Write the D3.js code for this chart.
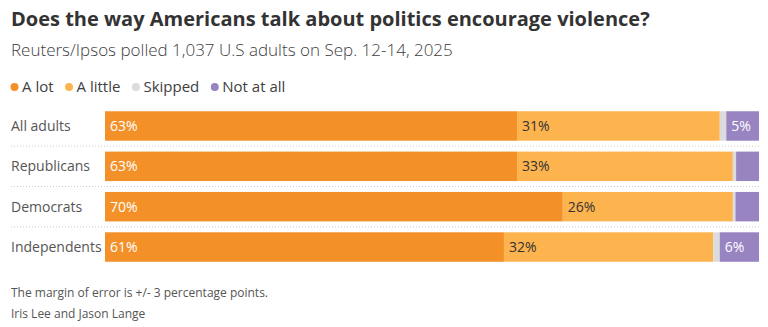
<!DOCTYPE html>
<html>
<head>
<meta charset="utf-8">
<script src="https://cdn.jsdelivr.net/npm/d3@7"></script>
<style>
  body { margin: 0; background: #fff; }
  text { font-family: "Open Sans", sans-serif; }
</style>
</head>
<body>
<div id="chart"></div>
<script>
var width = 768,
    height = 327;

// survey groups and answer shares (percent)
var groups = ["All adults", "Republicans", "Democrats", "Independents"];
var answers = ["A lot", "A little", "Skipped", "Not at all"];
var aLot     = [63, 63, 70, 61];
var aLittle  = [31, 33, 26, 32];
var skipped  = [1, 0.5, 0.4, 1];
var notAtAll = [5, 3.5, 3.6, 6];
// which segments carry a value label
var showLabel = [
  [true, true, false, true],
  [true, true, false, false],
  [true, true, false, false],
  [true, true, false, true]
];

var colors = {
  'A lot': '#f39128',
  'A little': '#fdb44f',
  'Skipped': '#dcdcdc',
  'Not at all': '#9784c1'
};
var labelColors = {
  'A lot': '#fff',
  'A little': '#333',
  'Skipped': '#333',
  'Not at all': '#fff'
};

var rows = groups.map(function(g, i) {
  return { group: g, "A lot": aLot[i], "A little": aLittle[i], "Skipped": skipped[i], "Not at all": notAtAll[i] };
});
var series = d3.stack().keys(answers)(rows);

var svg = d3.select("#chart").append("svg")
    .attr("width", width)
    .attr("height", height);

svg.append("text")
  .attr("x", 11).attr("y", 26)
  .style("font-size", "20px").style("font-weight", "700").style("fill", "#333")
  .text("Does the way Americans talk about politics encourage violence?");

svg.append("text")
  .attr("x", 11).attr("y", 56)
  .style("font-size", "17px").style("font-weight", "300").style("fill", "#404040")
  .text("Reuters/Ipsos polled 1,037 U.S adults on Sep. 12-14, 2025");

/* Legend */
var legend = svg.append("g").attr("transform", "translate(11,92)");
var lx = 0;
answers.forEach(function(a) {
  var item = legend.append("g").attr("transform", "translate(" + lx + ",0)");
  item.append("circle").attr("cx", 3.5).attr("cy", -5).attr("r", 4).attr("fill", colors[a]);
  var t = item.append("text").attr("x", 11).attr("y", 0)
    .style("font-size", "15px").style("fill", "#404040").text(a);
  lx += 11 + t.node().getComputedTextLength() + 12;
});

/* Bars */
var x = d3.scaleLinear().domain([0, 100]).range([105, 759]);
var y = d3.scaleBand().domain(groups).range([106, 267]).paddingInner(0.27).paddingOuter(0.13);

svg.selectAll(".sep")
  .data(groups.slice(1))
  .enter().append("line")
  .attr("class", "sep")
  .attr("x1", 11).attr("x2", 759)
  .attr("y1", function(d) { return y(d) - (y.step() - y.bandwidth()) / 2; })
  .attr("y2", function(d) { return y(d) - (y.step() - y.bandwidth()) / 2; })
  .attr("stroke", "#ccc").attr("stroke-dasharray", "1,2");

svg.selectAll(".cat")
  .data(groups)
  .enter().append("text")
  .attr("class", "cat")
  .attr("x", 11)
  .attr("y", function(d) { return y(d) + y.bandwidth() / 2 + 5; })
  .style("font-size", "14px").style("fill", "#555")
  .text(function(d) { return d; });

var layer = svg.selectAll(".layer")
  .data(series)
  .enter().append("g")
  .attr("class", "layer")
  .attr("fill", function(d) { return colors[d.key]; });

layer.selectAll("rect")
  .data(function(d) { return d; })
  .enter().append("rect")
  .attr("x", function(d) { return x(d[0]); })
  .attr("y", function(d) { return y(d.data.group); })
  .attr("width", function(d) { return x(d[1]) - x(d[0]); })
  .attr("height", y.bandwidth());

layer.each(function(s, si) {
  d3.select(this).selectAll(".val")
    .data(s.filter(function(d, i) { return showLabel[i][si]; }))
    .enter().append("text")
    .attr("class", "val")
    .attr("x", function(d) { return x(d[0]) + 5; })
    .attr("y", function(d) { return y(d.data.group) + y.bandwidth() / 2 + 5; })
    .style("font-size", "14px")
    .style("fill", labelColors[s.key])
    .text(function(d) { return d.data[s.key] + "%"; });
});

/* Footer */
svg.append("text")
  .attr("x", 11).attr("y", 297)
  .style("font-size", "12px").style("fill", "#555")
  .text("The margin of error is +/- 3 percentage points.");
svg.append("text")
  .attr("x", 11).attr("y", 318)
  .style("font-size", "12px").style("fill", "#555")
  .text("Iris Lee and Jason Lange");
</script>
</body>
</html>
